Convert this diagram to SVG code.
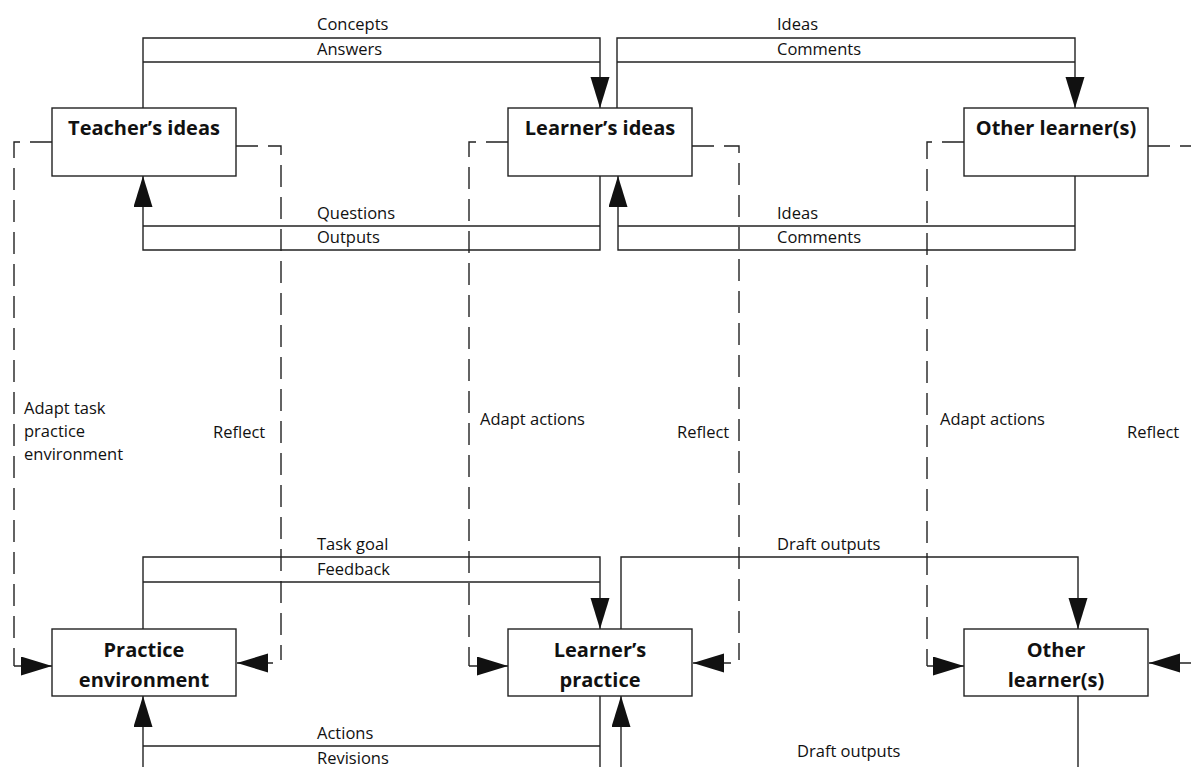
<svg xmlns="http://www.w3.org/2000/svg" width="1191" height="767" viewBox="0 0 1191 767">
<style>
.bg{fill:#fff}
.box{fill:#fff;stroke:#222;stroke-width:1.4}
.ln{fill:none;stroke:#222;stroke-width:1.4}
.dash{fill:none;stroke:#222;stroke-width:1.4;stroke-dasharray:22 10}
.lbl{font-family:"Open Sans","Liberation Sans",sans-serif;font-size:16.5px;fill:#111}
.ttl{font-family:"Open Sans","Liberation Sans",sans-serif;font-size:20px;font-weight:bold;fill:#111;text-anchor:middle}
</style>
<defs>
<marker id="ah" markerUnits="userSpaceOnUse" markerWidth="32" markerHeight="20" refX="31" refY="9.5" orient="auto">
<path d="M0,0 L31,9.5 L0,19 z" fill="#111"/>
</marker>
</defs>
<rect class="bg" x="0" y="0" width="1191" height="767"/>
<g id="connectors">
<!-- top row -->
<path class="ln" d="M143,108 V38 H600 V108" marker-end="url(#ah)"/>
<path class="ln" d="M143,62 H600"/>
<path class="ln" d="M617,108 V38 H1075 V108" marker-end="url(#ah)"/>
<path class="ln" d="M617,62 H1075"/>
<path class="ln" d="M600,176 V250 H143 V176" marker-end="url(#ah)"/>
<path class="ln" d="M143,226 H600"/>
<path class="ln" d="M1075,176 V250 H618 V176" marker-end="url(#ah)"/>
<path class="ln" d="M618,226 H1075"/>
<!-- bottom row -->
<path class="ln" d="M143,629 V557 H600 V629" marker-end="url(#ah)"/>
<path class="ln" d="M143,582 H600"/>
<path class="ln" d="M621,629 V557 H1078 V629" marker-end="url(#ah)"/>
<path class="ln" d="M600,696 V780"/>
<path class="ln" d="M143,746 H600"/>
<path class="ln" d="M143,780 V696" marker-end="url(#ah)"/>
<path class="ln" d="M1078,696 V780"/>
<path class="ln" d="M621,780 V696" marker-end="url(#ah)"/>
<!-- dashed feedback loops -->
<path class="dash" d="M52,142 H14 V666"/>
<path class="ln" d="M14,666 H52" marker-end="url(#ah)"/>
<path class="dash" d="M236,146 H281 V660"/>
<path class="ln" d="M273,663 H237" marker-end="url(#ah)"/>
<path class="dash" d="M508,142 H469 V666"/>
<path class="ln" d="M469,666 H508" marker-end="url(#ah)"/>
<path class="dash" d="M692,146 H739 V660"/>
<path class="ln" d="M731,663 H693" marker-end="url(#ah)"/>
<path class="dash" d="M964,142 H927 V666"/>
<path class="ln" d="M927,666 H964" marker-end="url(#ah)"/>
<path class="dash" d="M1148,146 H1200"/>
<path class="ln" d="M1195,663 H1149" marker-end="url(#ah)"/>
</g>
<g id="labels">
<text class="lbl" x="317" y="30">Concepts</text>
<text class="lbl" x="317" y="55">Answers</text>
<text class="lbl" x="777" y="30">Ideas</text>
<text class="lbl" x="777" y="55">Comments</text>
<text class="lbl" x="317" y="219">Questions</text>
<text class="lbl" x="317" y="243">Outputs</text>
<text class="lbl" x="777" y="219">Ideas</text>
<text class="lbl" x="777" y="243">Comments</text>
<text class="lbl" x="317" y="550">Task goal</text>
<text class="lbl" x="317" y="575">Feedback</text>
<text class="lbl" x="777" y="550">Draft outputs</text>
<text class="lbl" x="317" y="739">Actions</text>
<text class="lbl" x="317" y="764">Revisions</text>
<text class="lbl" x="797" y="757">Draft outputs</text>
<text class="lbl" x="24" y="414">Adapt task</text>
<text class="lbl" x="24" y="437">practice</text>
<text class="lbl" x="24" y="460">environment</text>
<text class="lbl" x="213" y="438">Reflect</text>
<text class="lbl" x="480" y="425">Adapt actions</text>
<text class="lbl" x="677" y="438">Reflect</text>
<text class="lbl" x="940" y="425">Adapt actions</text>
<text class="lbl" x="1127" y="438">Reflect</text>
</g>
<g id="teachers-ideas">
<rect class="box" x="52" y="108" width="184" height="68"/>
<text class="ttl" x="144" y="135">Teacher’s ideas</text>
</g>
<g id="learners-ideas">
<rect class="box" x="508" y="108" width="184" height="68"/>
<text class="ttl" x="600" y="135">Learner’s ideas</text>
</g>
<g id="other-learners-ideas">
<rect class="box" x="964" y="108" width="184" height="68"/>
<text class="ttl" x="1056" y="135">Other learner(s)</text>
</g>
<g id="practice-environment">
<rect class="box" x="52" y="629" width="184" height="67"/>
<text class="ttl" x="144" y="657">Practice</text>
<text class="ttl" x="144" y="687">environment</text>
</g>
<g id="learners-practice">
<rect class="box" x="508" y="629" width="184" height="67"/>
<text class="ttl" x="600" y="657">Learner’s</text>
<text class="ttl" x="600" y="687">practice</text>
</g>
<g id="other-learners-practice">
<rect class="box" x="964" y="629" width="184" height="67"/>
<text class="ttl" x="1056" y="657">Other</text>
<text class="ttl" x="1056" y="687">learner(s)</text>
</g>
</svg>
